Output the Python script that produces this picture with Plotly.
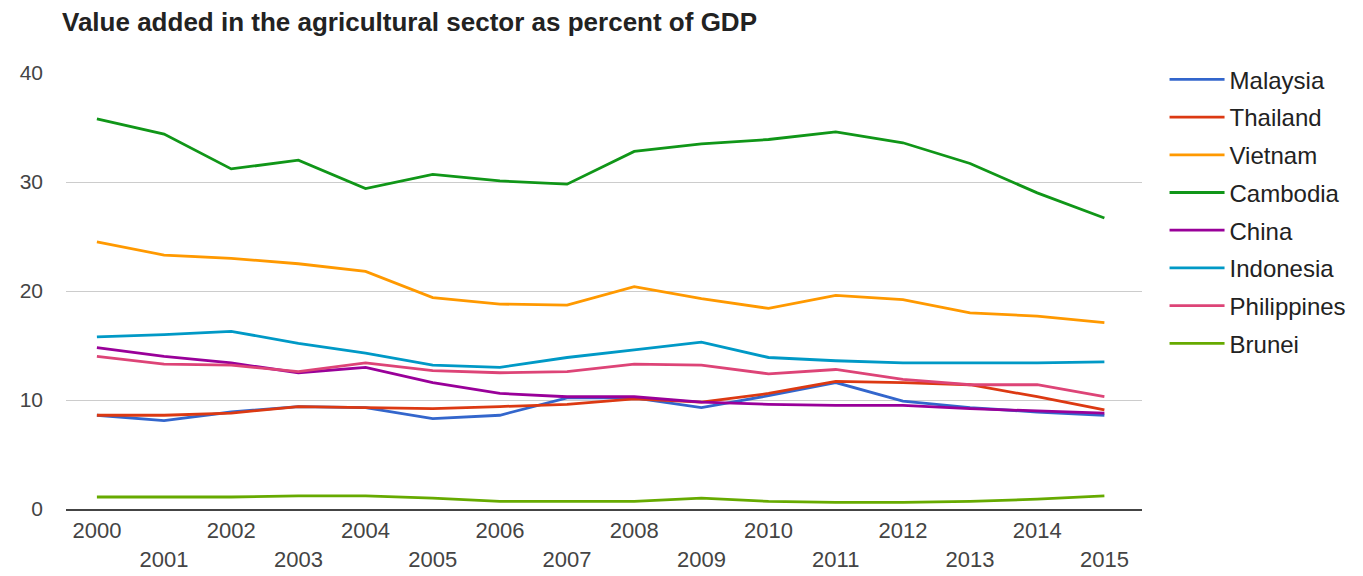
import plotly.graph_objects as go

years = list(range(2000, 2016))

malaysia    = [8.6, 8.1, 8.9, 9.4, 9.3, 8.3, 8.6, 10.2, 10.2, 9.3, 10.4, 11.6, 9.9, 9.3, 8.9, 8.6]
thailand    = [8.6, 8.6, 8.8, 9.4, 9.3, 9.2, 9.4, 9.6, 10.1, 9.8, 10.6, 11.7, 11.6, 11.4, 10.3, 9.1]
vietnam     = [24.5, 23.3, 23.0, 22.5, 21.8, 19.4, 18.8, 18.7, 20.4, 19.3, 18.4, 19.6, 19.2, 18.0, 17.7, 17.1]
cambodia    = [35.8, 34.4, 31.2, 32.0, 29.4, 30.7, 30.1, 29.8, 32.8, 33.5, 33.9, 34.6, 33.6, 31.7, 29.0, 26.7]
china       = [14.8, 14.0, 13.4, 12.5, 13.0, 11.6, 10.6, 10.3, 10.3, 9.8, 9.6, 9.5, 9.5, 9.2, 9.0, 8.8]
indonesia   = [15.8, 16.0, 16.3, 15.2, 14.3, 13.2, 13.0, 13.9, 14.6, 15.3, 13.9, 13.6, 13.4, 13.4, 13.4, 13.5]
philippines = [14.0, 13.3, 13.2, 12.6, 13.4, 12.7, 12.5, 12.6, 13.3, 13.2, 12.4, 12.8, 11.9, 11.4, 11.4, 10.3]
brunei      = [1.1, 1.1, 1.1, 1.2, 1.2, 1.0, 0.7, 0.7, 0.7, 1.0, 0.7, 0.6, 0.6, 0.7, 0.9, 1.2]

series = [
    ("Malaysia", malaysia, "#3366cc"),
    ("Thailand", thailand, "#dc3912"),
    ("Vietnam", vietnam, "#ff9900"),
    ("Cambodia", cambodia, "#109618"),
    ("China", china, "#990099"),
    ("Indonesia", indonesia, "#0099c6"),
    ("Philippines", philippines, "#dd4477"),
    ("Brunei", brunei, "#66aa00"),
]

# alternate year labels between two rows
tick_text = [str(y) if y % 2 == 0 else "<br>" + str(y) for y in years]

FONT = "Liberation Sans, Arial, sans-serif"

fig = go.Figure()
for name, vals, color in series:
    fig.add_trace(go.Scatter(
        x=years, y=vals, name=name, mode="lines",
        line=dict(color=color, width=2.8),
        legendgroup=name,
    ))

fig.update_layout(
    width=1363, height=576,
    margin=dict(l=66, r=220, t=73, b=67),
    paper_bgcolor="white", plot_bgcolor="white",
    font=dict(family=FONT, color="#444"),
    title=dict(
        text="<b>Value added in the agricultural sector as percent of GDP</b>",
        x=62 / 1363, xanchor="left", xref="container",
        y=1 - 22 / 576, yanchor="middle", yref="container",
        font=dict(family=FONT, size=26, color="#222"),
    ),
    showlegend=True,
    legend=dict(
        x=1.02, xanchor="left", y=1.036, yanchor="top",
        font=dict(family=FONT, size=24, color="#222"),
        tracegroupgap=3.5, itemwidth=55,
        maxheight=480,
        bgcolor="rgba(0,0,0,0)",
    ),
    xaxis=dict(
        range=[1999.54, 2015.56],
        tickmode="array", tickvals=years, ticktext=tick_text,
        showgrid=False, zeroline=False,
        showline=True, linecolor="#444", linewidth=2,
        ticks="", ticklabelstandoff=1, automargin=False,
        tickfont=dict(size=22, color="#444"),
    ),
    yaxis=dict(
        range=[0, 40], tickvals=[0, 10, 20, 30, 40],
        showgrid=True, gridcolor="#cccccc", gridwidth=1,
        zeroline=False, showline=False, ticks="",
        ticklabelstandoff=22, automargin=False,
        tickfont=dict(size=21, color="#444"),
    ),
)

fig.write_html("out.html")
